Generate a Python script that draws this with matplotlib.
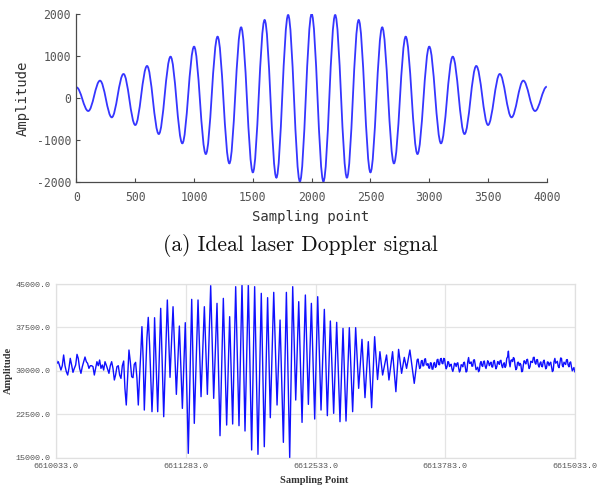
import numpy as np
import matplotlib
matplotlib.use('Agg')
import matplotlib.pyplot as plt
from matplotlib.path import Path
from matplotlib.patches import PathPatch
from matplotlib.ticker import FixedLocator, FuncFormatter

plt.rcParams['axes.unicode_minus'] = False

# (a) ideal Doppler signal: one extremum every 100 samples, amplitudes
ideal_x = np.arange(0, 4001, 100)
ideal_ext = [250, -314, 410, -465, 569, -648, 760, -863, 982, -1085,
             1221, -1340, 1459, -1563, 1682, -1777, 1857, -1904, 1976, -1995,
             2000, -1995, 1976, -1904, 1857, -1777, 1682, -1563, 1459, -1340,
             1221, -1085, 982, -863, 760, -648, 569, -465, 410, -314, 266]
ideal_xticks = [0, 500, 1000, 1500, 2000, 2500, 3000, 3500, 4000]
ideal_yticks = [-2000, -1000, 0, 1000, 2000]

# (b) measured signal: sample offsets from 6610033 and amplitudes
start = 6610033
meas_off = [0, 7, 20, 32, 45, 58, 71, 84, 97, 110, 122, 135, 148, 161, 174, 187,
            200, 212, 225, 238, 251, 264, 277, 290, 302, 315, 328, 341, 354, 367,
            380, 392, 405, 418, 431, 444, 457, 470, 482, 495, 508, 521, 534, 547,
            560, 572, 585, 598, 611, 624, 637, 650, 662, 675, 688, 701, 714, 727,
            740, 752, 765, 778, 791, 804, 817, 826, 839, 849, 862, 874, 887, 900,
            913, 923, 936, 948, 978, 1007, 1036, 1071, 1097, 1126, 1158, 1187,
            1216, 1244, 1273, 1306, 1331, 1367, 1396, 1428, 1457, 1489, 1518,
            1550, 1579, 1611, 1643, 1672, 1701, 1730, 1762, 1791, 1820, 1852,
            1884, 1913, 1945, 1977, 2006, 2038, 2064, 2097, 2129, 2158, 2190,
            2219, 2251, 2280, 2309, 2338, 2370, 2402, 2431, 2460, 2492, 2521,
            2553, 2585, 2614, 2643, 2675, 2704, 2736, 2765, 2794, 2826, 2858,
            2887, 2916, 2948, 2977, 3009, 3041, 3070, 3098, 3121, 3147, 3185,
            3208, 3243, 3275, 3301, 3330, 3356, 3378, 3410, 3452]
meas_val = [32000, 31300, 31580, 30890, 30140, 30890, 32740, 30890, 29860, 29280,
            30430, 32160, 31010, 29740, 30430, 31010, 32850, 32160, 30430, 29570,
            30720, 31580, 32390, 31580, 31300, 30430, 30890, 30890, 30720, 29280,
            30430, 31580, 30890, 31870, 30430, 31010, 30140, 31580, 31010, 30320,
            29570, 30890, 31580, 30430, 28420, 29280, 30720, 30890, 29280, 28700,
            30890, 31700, 26980, 24100, 28700, 33600, 31580, 28990, 28820, 31120,
            31470, 28700, 24100, 29280, 33890, 37630, 31580, 23230, 29860, 35610,
            39240, 34460, 28130, 22950, 28700, 39180, 22950, 40800, 22080, 42240,
            28880, 41080, 25940, 37740, 23520, 38320, 15750, 42350, 20930, 42240,
            25540, 41080, 25940, 44710, 25250, 41660, 18800, 42520, 20640, 39360,
            20820, 44540, 20530, 45000, 19610, 45000, 16330, 44540, 15580, 43390,
            16900, 42640, 21910, 43560, 24100, 38780, 17650, 43560, 15000, 44540,
            24960, 41950, 21100, 43100, 24210, 41660, 21680, 42810, 23230, 40620,
            22260, 38610, 22660, 38380, 21220, 37340, 21330, 37460, 22950, 37460,
            26980, 35440, 25370, 35040, 23640, 35900, 28500, 33310, 29280, 32740,
            28420, 33310, 26400, 33710, 29570, 32330, 30430, 33600, 27840]
# noise tail after the burst, one reading every 8 samples from offset 3480
tail_start, tail_step = 3480, 8
tail_val = [31900, 32050, 31200, 30400, 30600, 31700, 31800, 30850, 30900, 32000,
            32100, 31050, 31000, 31250, 30500, 30450, 31400, 31350, 30300, 30300,
            31300, 31450, 30600, 30750, 31900, 32000, 31100, 31050, 32000, 32150,
            31300, 31225, 32150, 32075, 31000, 30350, 30700, 31600, 31500, 30750,
            31000, 31150, 30300, 29900, 30450, 31325, 31200, 30750, 31300, 31400,
            30500, 29800, 30100, 31050, 31000, 30700, 31400, 31500, 30600, 29800,
            29950, 31600, 32300, 31300, 31300, 31550, 30800, 30825, 31850, 31925,
            31000, 30200, 30400, 30625, 29850, 30075, 31300, 31600, 30900, 30750,
            31600, 31700, 30800, 30400, 31000, 31750, 31500, 30900, 31300, 31500,
            30700, 30650, 31600, 31800, 31000, 30350, 30700, 31600, 31500, 31125,
            31750, 31825, 30900, 30550, 31200, 31400, 30600, 30875, 32150, 32400,
            33400, 31550, 30700, 31800, 31900, 31600, 32300, 32150, 31000, 30200,
            30400, 31450, 31500, 30900, 31300, 31075, 29850, 29925, 31000, 31750,
            31500, 31200, 31900, 32000, 31100, 30400, 30700, 31650, 31600, 31450,
            32300, 32350, 31400, 31150, 31900, 31950, 31000, 30650, 31300, 31550,
            30800, 30700, 31600, 31850, 31100, 30350, 30600, 31550, 31500, 30900,
            31300, 31500, 30700, 29875, 30050, 31600, 32150, 31325, 31500, 31650,
            30800, 30550, 31300, 32225, 32150, 30925, 30700, 31500, 31300, 31100,
            31900, 31950, 31000, 30700, 31400, 31550, 30700, 30000, 30300, 30575,
            29850]
meas_xticks = [6610033, 6611283, 6612533, 6613783, 6615033]
meas_yticks = [15000, 22500, 30000, 37500, 45000]

fig = plt.figure(figsize=(6.09, 4.88), dpi=100)

# --- (a) ideal signal ---
ax1 = fig.add_axes([0.1256, 0.6277, 0.7723, 0.3436])
H = 0.3634  # handle length so each cubic follows a half cosine between extrema
verts = [(ideal_x[0], ideal_ext[0])]
codes = [Path.MOVETO]
for i in range(1, len(ideal_x)):
    x0, y0 = ideal_x[i - 1], ideal_ext[i - 1]
    x1, y1 = ideal_x[i], ideal_ext[i]
    d = x1 - x0
    verts += [(x0 + H * d, y0), (x1 - H * d, y1), (x1, y1)]
    codes += [Path.CURVE4] * 3
ax1.add_patch(PathPatch(Path(verts, codes), fill=False, edgecolor='#3535ff', lw=1.3))
ax1.set_xlim(0, 4000)
ax1.set_ylim(-2000, 2000)
ax1.xaxis.set_major_locator(FixedLocator(ideal_xticks))
ax1.yaxis.set_major_locator(FixedLocator(ideal_yticks))
ax1.yaxis.set_major_formatter(FuncFormatter(lambda v, p: f"{int(v)}"))
for s in ['top', 'right']:
    ax1.spines[s].set_visible(False)
for s in ['left', 'bottom']:
    ax1.spines[s].set_color('#4a4a4a')
    ax1.spines[s].set_linewidth(0.9)
ax1.tick_params(direction='in', length=3, width=0.8, color='#4a4a4a', labelcolor='#555555')
ax1.tick_params(axis='x', pad=7)
ax1.tick_params(axis='y', pad=4)
for lab in ax1.get_xticklabels() + ax1.get_yticklabels():
    lab.set_family('DejaVu Sans Mono')
    lab.set_fontsize(8.3)
ax1.set_xlabel('Sampling point', family='DejaVu Sans Mono', fontsize=10, color='#333333')
ax1.set_ylabel('Amplitude', family='DejaVu Sans Mono', fontsize=10, color='#333333')
ax1.xaxis.set_label_coords(0.498, -0.169)
ax1.yaxis.set_label_coords(-0.10, 0.5)

fig.text(0.494, 0.4965, '(a) Ideal laser Doppler signal', family='cmr10', fontsize=15.5,
         ha='center', va='center', color='#111111')

# --- (b) measured signal ---
ax2 = fig.add_axes([0.0924, 0.0621, 0.8514, 0.3559])
x_all = np.concatenate([np.array(meas_off),
                        tail_start + tail_step * np.arange(len(tail_val))]) + start
y_all = np.array(meas_val + tail_val)
ax2.plot(x_all, y_all, color='#1010ff', lw=1.0)
ax2.set_xlim(meas_xticks[0], meas_xticks[-1])
ax2.set_ylim(meas_yticks[0], meas_yticks[-1])
ax2.xaxis.set_major_locator(FixedLocator(meas_xticks))
ax2.yaxis.set_major_locator(FixedLocator(meas_yticks))
ax2.xaxis.set_major_formatter(FuncFormatter(lambda v, p: f"{v:.1f}"))
ax2.yaxis.set_major_formatter(FuncFormatter(lambda v, p: f"{v:.1f}"))
ax2.grid(True, color='#e4e4e4', lw=0.9)
ax2.set_axisbelow(True)
for s in ax2.spines.values():
    s.set_color('#e0e0e0')
    s.set_linewidth(0.9)
ax2.tick_params(length=0, labelcolor='#555555', pad=4)
for lab in ax2.get_xticklabels() + ax2.get_yticklabels():
    lab.set_family('Liberation Mono')
    lab.set_fontsize(6)
ax2.set_xlabel('Sampling Point', family='Liberation Serif', fontweight='bold', fontsize=7.5,
               color='#333333')
ax2.set_ylabel('Amplitude', family='Liberation Serif', fontweight='bold', fontsize=7.5,
               color='#333333')
ax2.xaxis.set_label_coords(0.498, -0.108)
ax2.yaxis.set_label_coords(-0.0835, 0.5)

fig.savefig('out.png', dpi=100)
